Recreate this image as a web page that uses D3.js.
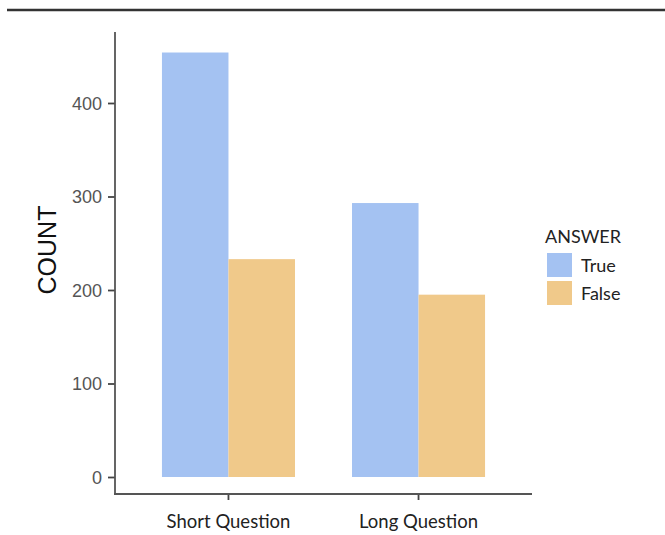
<!DOCTYPE html>
<html><head><meta charset="utf-8">
<script src="https://cdn.jsdelivr.net/npm/d3@7"></script>
<style>body{margin:0;background:#fff}svg{display:block}</style>
</head><body>
<svg id="c" width="665" height="535"></svg>
<script>
const categories = ["Short Question", "Long Question"];
const series = ["True", "False"];
const trueValues = [454, 293];
const falseValues = [233, 195];
const yTicks = [0, 100, 200, 300, 400];
const colors = ["#a4c2f2", "#f0c98a"];

const svg = d3.select("#c");
// top rule
svg.append("line").attr("x1", 7).attr("x2", 665).attr("y1", 10).attr("y2", 10)
  .attr("stroke", "#333").attr("stroke-width", 2.5);

const y = d3.scaleLinear().domain([0, 400]).range([477, 103]);
const x = d3.scaleBand().domain(categories).range([115, 532]).paddingInner(0.3).paddingOuter(0.247);
const xs = d3.scaleBand().domain(series).range([0, x.bandwidth()]);

const data = categories.map((c, i) => ({c, vals: [trueValues[i], falseValues[i]]}));
const g = svg.append("g");
data.forEach(d => {
  d.vals.forEach((v, j) => {
    g.append("rect").attr("x", x(d.c) + xs(series[j])).attr("width", xs.bandwidth())
      .attr("y", y(v)).attr("height", y(0) - y(v)).attr("fill", colors[j]);
  });
});

// y axis
const yAxis = svg.append("g").attr("transform", "translate(115,0)")
  .call(d3.axisLeft(y).tickValues(yTicks).tickSize(7).tickPadding(6));
yAxis.select(".domain").remove();
yAxis.selectAll(".tick line").attr("stroke", "#444").attr("stroke-width", 1.8);
yAxis.selectAll("text").style("font-family", "'Liberation Sans', Arial, sans-serif")
  .style("font-size", "18px").attr("fill", "#555").attr("dy", "0.36em");
svg.append("line").attr("x1", 115).attr("x2", 115).attr("y1", 32).attr("y2", 495)
  .attr("stroke", "#555").attr("stroke-width", 1.8);

// x axis
const xAxis = svg.append("g").attr("transform", "translate(0,494)")
  .call(d3.axisBottom(x).tickSize(6).tickPadding(15));
xAxis.select(".domain").remove();
xAxis.selectAll(".tick line").attr("stroke", "#444").attr("stroke-width", 1.8);
xAxis.selectAll("text").style("font-family", "Lato, 'Open Sans', sans-serif")
  .style("font-size", "18.5px").attr("fill", "#222");
svg.append("line").attr("x1", 114).attr("x2", 532).attr("y1", 494).attr("y2", 494)
  .attr("stroke", "#555").attr("stroke-width", 1.8);

// y title
svg.append("text").attr("transform", "translate(56,250) rotate(-90)")
  .attr("text-anchor", "middle").style("font-family", "'Liberation Sans', Arial, sans-serif")
  .style("font-size", "25px").attr("fill", "#111").text("COUNT");

// legend
const lg = svg.append("g");
lg.append("text").attr("x", 545).attr("y", 243).style("font-family", "Lato, 'Open Sans', sans-serif")
  .style("font-size", "18px").attr("fill", "#222").text("ANSWER");
series.forEach((s, i) => {
  lg.append("rect").attr("x", 547).attr("y", 253 + i * 28).attr("width", 25).attr("height", 24)
    .attr("fill", colors[i]);
  lg.append("text").attr("x", 581).attr("y", 272 + i * 28).style("font-family", "Lato, 'Open Sans', sans-serif")
    .style("font-size", "18px").attr("fill", "#222").text(s);
});
</script>
</body></html>
